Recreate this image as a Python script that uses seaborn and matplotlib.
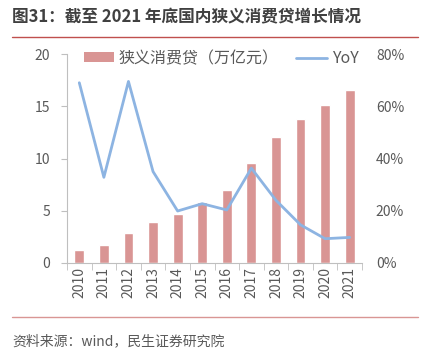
import matplotlib
matplotlib.use("Agg")
import matplotlib.pyplot as plt
import seaborn as sns
import numpy as np
from matplotlib.lines import Line2D
from matplotlib.patches import Patch
from matplotlib.ticker import PercentFormatter, FixedLocator

years = ["2010", "2011", "2012", "2013", "2014", "2015", "2016", "2017", "2018", "2019", "2020", "2021"]
loans = [1.24, 1.7, 2.87, 3.92, 4.72, 5.84, 6.99, 9.57, 12.1, 13.8, 15.1, 16.6]
yoy = [0.69, 0.328, 0.695, 0.35, 0.199, 0.227, 0.203, 0.363, 0.24, 0.146, 0.093, 0.098]

title = "图31：截至 2021 年底国内狭义消费贷增长情况"
source = "资料来源：wind，民生证券研究院"
bar_label = "狭义消费贷（万亿元）"
line_label = "YoY"

sns.set_style("white")
plt.rcParams['font.family'] = ['Noto Sans CJK SC', 'DejaVu Sans']

bar_color = "#D99594"
line_color = "#8DB4E2"
tick_color = "#595959"
spine_color = "#BFBFBF"
rule_color = "#C0504D"

fig = plt.figure(figsize=(4.22, 3.49), dpi=100)
ax = fig.add_axes([67/422, 1-263/349, (362-67)/422, (263-54)/349])

sns.barplot(x=years, y=loans, color=bar_color, width=0.4, saturation=1, ax=ax)
ax.set_ylim(0, 20)
ax.set_yticks([0, 5, 10, 15, 20])
ax.set_xlim(-0.5, len(years) - 0.5)

ax2 = ax.twinx()
sns.lineplot(x=np.arange(len(years)), y=yoy, color=line_color, linewidth=2, ax=ax2)
ax2.set_ylim(0, 0.8)
ax2.set_yticks([0, 0.2, 0.4, 0.6, 0.8])
ax2.yaxis.set_major_formatter(PercentFormatter(1.0, decimals=0))

for a in (ax, ax2):
    for s in a.spines.values():
        s.set_visible(False)
ax.spines['left'].set_visible(True)
ax.spines['left'].set_color(spine_color)
ax.spines['bottom'].set_visible(True)
ax.spines['bottom'].set_color(spine_color)

ax.tick_params(axis='y', colors=tick_color, labelsize=10, length=4, width=0.8, direction='out', left=True, pad=8)
ax.tick_params(axis='y', color=spine_color)
ax.tick_params(axis='x', colors=tick_color, labelsize=10, labelrotation=90, length=0, pad=3)
ax.xaxis.set_minor_locator(FixedLocator(np.arange(-0.5, len(years), 1.0)))
ax.tick_params(axis='x', which='minor', length=5, color=spine_color, bottom=True)
ax2.tick_params(axis='y', colors=tick_color, labelsize=10, length=0, pad=10)
ax.set_xlabel("")
ax.set_ylabel("")
ax2.set_ylabel("")

handles = [Patch(facecolor=bar_color, edgecolor='none'),
           Line2D([0], [0], color=line_color, linewidth=2)]
ax.legend(handles, [bar_label, line_label], loc='upper left', ncol=2, frameon=False,
          bbox_to_anchor=(0.035, 1.05), fontsize=11.5, labelcolor=tick_color,
          handlelength=1.9, handleheight=0.6, columnspacing=1.1, handletextpad=0.3,
          borderaxespad=0.0)

fig.text(12/422, 1-17/349, title, fontsize=12, fontweight='bold', color="#404040", va='center', ha='left')
fig.add_artist(Line2D([12/422, 418/422], [1-37/349, 1-37/349], color=rule_color, linewidth=1))
fig.add_artist(Line2D([12/422, 418/422], [1-317/349, 1-317/349], color=rule_color, linewidth=1, alpha=0.6))
fig.text(12/422, 1/349, source, fontsize=10, color=tick_color, va='bottom', ha='left')

fig.savefig("out.png", dpi=100)
